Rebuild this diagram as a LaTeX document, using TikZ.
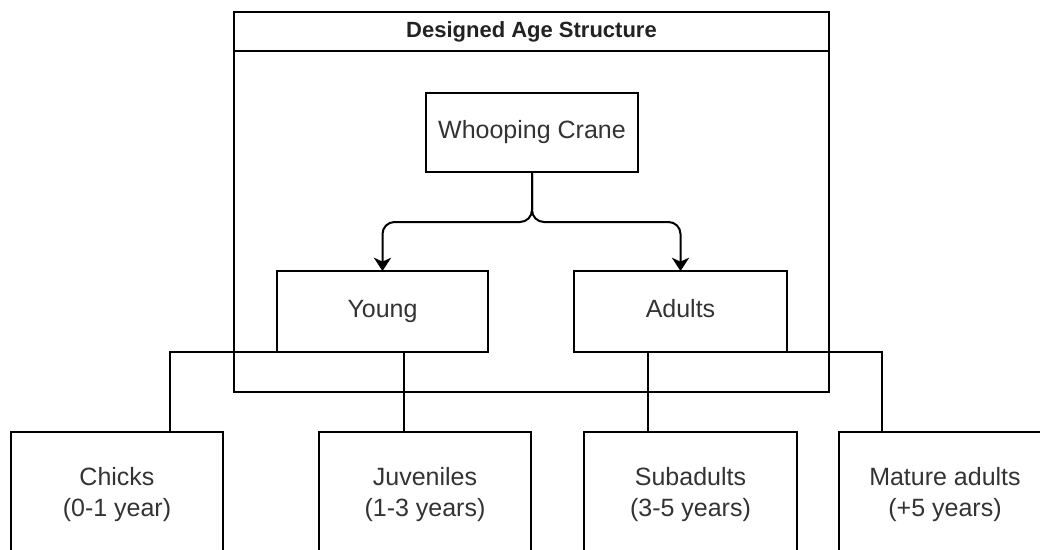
\documentclass[tikz,border=0pt]{standalone}
\usepackage{fontspec}
\setmainfont{Liberation Sans}
\usetikzlibrary{arrows.meta}
\definecolor{labelgray}{HTML}{333333}
\definecolor{titlegray}{HTML}{222222}
\begin{document}
\begin{tikzpicture}[x=0.75pt,y=-0.75pt,
  line width=1.5pt,
  box/.style={draw=black, fill=white, line width=1.5pt, inner sep=0pt,
    outer sep=0pt, text=labelgray, align=center,
    font=\fontsize{18.75}{23.25}\selectfont},
  onebox/.style={box, text height=13.5pt, text depth=4pt},
  link/.style={draw=black, line width=1.5pt},
  arrowlink/.style={link, rounded corners=9pt,
    -{Stealth[length=10pt,width=13pt,inset=3pt]}}]
\useasboundingbox (0,0) rectangle (1040,550);
\clip (0,0) rectangle (1040,550);
\fill[white] (0,0) rectangle (1040,550);

% bend points of the tree connectors
\coordinate (chickbend) at (170,352);
\coordinate (juvtap) at (404,432);
\coordinate (subtap) at (648,432);
\coordinate (matbend) at (882,352);

% container with title band
\node[box, minimum width=446.25pt, minimum height=285pt] (frame) at (531.5,202) {};
\coordinate (bandL) at (234,51);
\coordinate (bandR) at (829,51);
\draw[link] (bandL) -- (bandR);
\node[text=titlegray, font=\fontsize{16.5}{20}\selectfont\bfseries] (title) at (531.5,31.5) {Designed Age Structure};

% main boxes
\node[onebox, minimum width=159pt, minimum height=59.25pt] (crane) at (532,132.5) {Whooping Crane};
\node[onebox, minimum width=158.25pt, minimum height=60.75pt] (young) at (382.5,311.5) {Young};
\node[onebox, minimum width=159.75pt, minimum height=60.75pt] (adults) at (680.5,311.5) {Adults};

% age classes
\node[box, minimum width=159pt, minimum height=94.5pt] (chicks) at (117,495) {Chicks\\(0-1 year)};
\node[box, minimum width=159pt, minimum height=94.5pt] (juv) at (425,495) {Juveniles\\(1-3 years)};
\node[box, minimum width=159.75pt, minimum height=94.5pt] (sub) at (690.5,495) {Subadults\\(3-5 years)};
\node[box, minimum width=159pt, minimum height=94.5pt] (mature) at (945,495) {Mature adults\\(+5 years)};

% split arrows
\coordinate (split) at (532,222);
\draw[arrowlink] (crane.south) -- (split) -| (young.north);
\draw[arrowlink] (crane.south) -- (split) -| (adults.north);

% tree connectors
\draw[link] (young.south west) -- (chickbend) -- (chickbend |- chicks.north);
\draw[link] (juvtap |- young.south) -- (juvtap |- juv.north);
\draw[link] (subtap |- adults.south) -- (subtap |- sub.north);
\draw[link] (adults.south east) -- (matbend) -- (matbend |- mature.north);
\end{tikzpicture}
\end{document}
